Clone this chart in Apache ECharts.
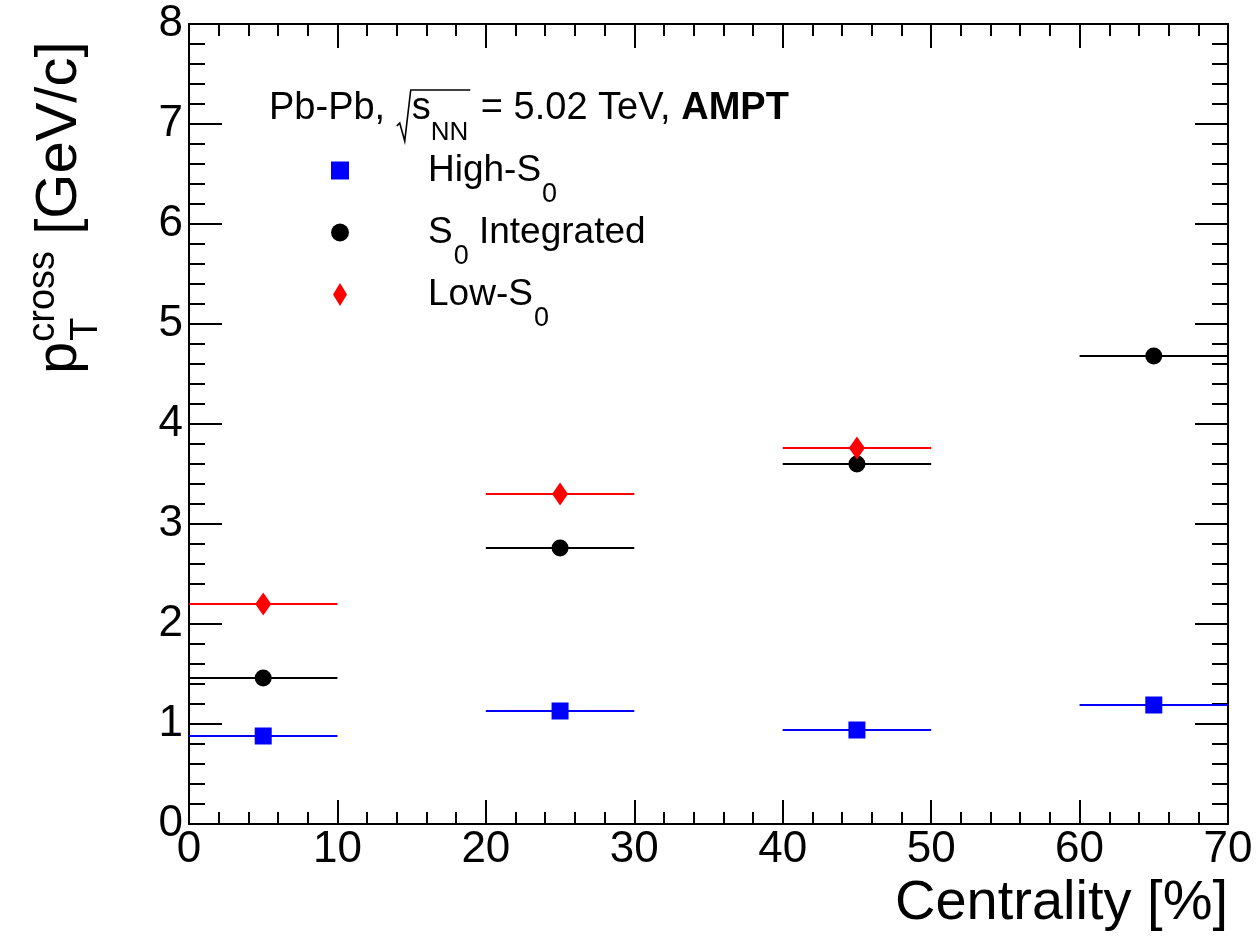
<!DOCTYPE html>
<html>
<head>
<meta charset="UTF-8">
<title>pT cross vs centrality</title>
<style>
  html, body { margin: 0; padding: 0; background: #fff; }
  #main { width: 1259px; height: 940px; }
</style>
</head>
<body>
<div id="main"></div>
<script src="https://cdn.jsdelivr.net/npm/echarts@6/dist/echarts.min.js"></script>
<script type="text/javascript">
  // bin centres and half widths (centrality %)
  var centrality = [5, 25, 45, 65];
  var centralityErr = [5, 5, 5, 5];
  // p_T cross values
  var highS0 = [0.88, 1.13, 0.94, 1.19];
  var intS0 = [1.46, 2.76, 3.60, 4.68];
  var lowS0 = [2.20, 3.30, 3.76];

  var xTicks = { min: 0, max: 70, interval: 10 };
  var yTicks = { min: 0, max: 8, interval: 1 };

  var FONT = '"Liberation Sans", Arial, Helvetica, sans-serif';
  var ctx = document.createElement('canvas').getContext('2d');
  function tw(str, size, weight) {
    ctx.font = (weight || 'normal') + ' ' + size + 'px ' + FONT;
    return ctx.measureText(str).width;
  }
  // offset from baseline to "middle" anchor
  function mid(size) { return -0.3465 * size; }

  function pts(ys) {
    var out = [];
    for (var i = 0; i < ys.length; i++) out.push([centrality[i], ys[i], centralityErr[i]]);
    return out;
  }

  function errBar(color) {
    return function (params, api) {
      var x = api.value(0), y = api.value(1), e = api.value(2);
      var a = api.coord([x - e, y]);
      var b = api.coord([x + e, y]);
      return {
        type: 'line',
        shape: { x1: a[0], y1: a[1], x2: b[0], y2: b[1] },
        style: { stroke: color, lineWidth: 2 }
      };
    };
  }

  function axisCommon(isX, main) {
    return {
      type: 'value',
      min: isX ? xTicks.min : yTicks.min,
      max: isX ? xTicks.max : yTicks.max,
      interval: isX ? xTicks.interval : yTicks.interval,
      axisLine: { show: true, onZero: false, lineStyle: { color: '#000', width: 2 } },
      axisTick: { show: true, inside: true, length: isX ? 24 : 33, lineStyle: { color: '#000', width: 2 } },
      minorTick: { show: true, splitNumber: 5, length: isX ? 12 : 16, lineStyle: { color: '#000', width: 2 } },
      axisLabel: {
        show: main, color: '#000', fontSize: 44, fontFamily: FONT,
        margin: isX ? 4 : 6
      },
      splitLine: { show: false },
      minorSplitLine: { show: false }
    };
  }

  var xMain = axisCommon(true, true);
  xMain.position = 'bottom';
  xMain.name = 'Centrality [%]';
  xMain.nameLocation = 'end';
  xMain.nameGap = 0;
  xMain.nameMoveOverlap = false;
  xMain.nameTextStyle = { fontSize: 56, fontFamily: FONT, color: '#000', align: 'right', verticalAlign: 'top', padding: [52, 0, 0, 0] };
  var xTop = axisCommon(true, false);
  xTop.position = 'top';
  var yMain = axisCommon(false, true);
  yMain.position = 'left';
  var yRight = axisCommon(false, false);
  yRight.position = 'right';

  // y axis title, built from pieces so "cross" sits over "T"
  var fsT = 58, fsS = 38;
  var pW = tw('p', fsT);
  var crossW = tw('cross', fsS);
  var yTitle = {
    type: 'group', x: 80, y: 374, rotation: Math.PI / 2,
    children: [
      { type: 'text', x: 0, y: mid(fsT), style: { text: 'p', font: fsT + 'px ' + FONT, fill: '#000', verticalAlign: 'middle' } },
      { type: 'text', x: pW, y: -23 + mid(fsS), style: { text: 'cross', font: fsS + 'px ' + FONT, fill: '#000', verticalAlign: 'middle' } },
      { type: 'text', x: pW + 1, y: 20 + mid(fsS), style: { text: 'T', font: fsS + 'px ' + FONT, fill: '#000', verticalAlign: 'middle' } },
      { type: 'text', x: pW + crossW, y: mid(fsT), style: { text: ' [GeV/c]', font: fsT + 'px ' + FONT, fill: '#000', verticalAlign: 'middle' } }
    ]
  };

  // collision system label
  var fsA = 38, fsN = 26;
  var w1 = tw('Pb-Pb, ', fsA);
  var sX = w1 + 16;
  var nnX = sX + tw('s', fsA);
  var endX = nnX + tw('NN', fsN) + 2;
  var eqW = tw(' = 5.02 TeV, ', fsA);
  var sysLabel = {
    type: 'group', x: 269, y: 122,
    children: [
      { type: 'text', x: 0, y: mid(fsA), style: { text: 'Pb-Pb, ', font: fsA + 'px ' + FONT, fill: '#000', verticalAlign: 'middle' } },
      { type: 'polyline', shape: { points: [[w1 + 1, 4], [w1 + 4, 1], [w1 + 9, 19], [w1 + 15, -32], [endX, -32]] },
        style: { stroke: '#000', lineWidth: 1.6, fill: null } },
      { type: 'text', x: sX, y: mid(fsA), style: { text: 's', font: fsA + 'px ' + FONT, fill: '#000', verticalAlign: 'middle' } },
      { type: 'text', x: nnX, y: 20 + mid(fsN), style: { text: 'NN', font: fsN + 'px ' + FONT, fill: '#000', verticalAlign: 'middle' } },
      { type: 'text', x: endX, y: mid(fsA), style: { text: ' = 5.02 TeV, ', font: fsA + 'px ' + FONT, fill: '#000', verticalAlign: 'middle' } },
      { type: 'text', x: endX + eqW, y: mid(fsA), style: { text: 'AMPT', font: 'bold ' + fsA + 'px ' + FONT, fill: '#000', verticalAlign: 'middle' } }
    ]
  };

  var legendNames = {
    'High-S0': '{f|High-S}{s|0}',
    'S0 Integrated': '{f|S}{s|0}{n| Integrated}',
    'Low-S0': '{f|Low-S}{s|0}'
  };

  var myChart = echarts.init(document.getElementById('main'), null, { renderer: 'canvas' });
  var option = {
    animation: false,
    backgroundColor: '#fff',
    grid: { left: 189, top: 24, width: 1039, height: 800, outerBoundsMode: 'none', containLabel: false },
    xAxis: [xMain, xTop],
    yAxis: [yMain, yRight],
    legend: {
      orient: 'vertical',
      left: 331, top: 133,
      padding: 0,
      itemGap: -13,
      itemWidth: 18, itemHeight: 23,
      selectedMode: false,
      data: [
        { name: 'High-S0', icon: 'path://M0,0H10V10H0Z' },
        { name: 'S0 Integrated', icon: 'path://M0,5A5,5 0 1,0 10,5A5,5 0 1,0 0,5Z' },
        { name: 'Low-S0', icon: 'path://M7,0L14,11.5L7,23L0,11.5Z' }
      ],
      formatter: function (name) { return legendNames[name]; },
      textStyle: {
        color: '#000', fontFamily: FONT, fontSize: 37,
        rich: {
          f: { fontSize: 37, lineHeight: 37, fontFamily: FONT, color: '#000', padding: [0, 0, 0, 74] },
          n: { fontSize: 37, lineHeight: 37, fontFamily: FONT, color: '#000' },
          s: { fontSize: 27, lineHeight: 27, fontFamily: FONT, color: '#000', padding: [48, 0, 0, 1] }
        }
      }
    },
    graphic: [yTitle, sysLabel],
    series: [
      { name: 'High-S0 err', type: 'custom', z: 2, data: pts(highS0), renderItem: errBar('#0000ff'), silent: true },
      { name: 'S0 Integrated err', type: 'custom', z: 2, data: pts(intS0), renderItem: errBar('#000000'), silent: true },
      { name: 'Low-S0 err', type: 'custom', z: 2, data: pts(lowS0), renderItem: errBar('#ff0000'), silent: true },
      { name: 'High-S0', type: 'scatter', z: 3, symbol: 'rect', symbolSize: 17, itemStyle: { color: '#0000ff', opacity: 1 }, data: pts(highS0) },
      { name: 'S0 Integrated', type: 'scatter', z: 3, symbol: 'circle', symbolSize: 17, itemStyle: { color: '#000000', opacity: 1 }, data: pts(intS0) },
      { name: 'Low-S0', type: 'scatter', z: 3, symbol: 'diamond', symbolSize: [16, 23], itemStyle: { color: '#ff0000', opacity: 1 }, data: pts(lowS0) }
    ]
  };
  myChart.setOption(option);
</script>
</body>
</html>
